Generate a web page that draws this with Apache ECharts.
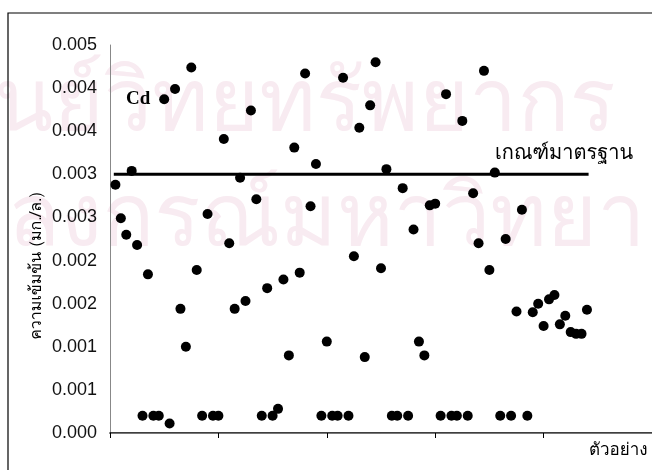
<!DOCTYPE html>
<html>
<head>
<meta charset="utf-8">
<script src="https://cdn.jsdelivr.net/npm/echarts@6/dist/echarts.min.js"></script>
<style>
html,body{margin:0;padding:0;background:#fff;}
#chart{width:652px;height:470px;}
</style>
</head>
<body>
<div id="chart"></div>
<script>
// Cd concentration (mg/L) for samples 1..88
const cdValues = [
  0.00288, 0.00249, 0.00230, 0.00304, 0.00218, 0.00020, 0.00184, 0.00020, 0.00020, 0.00387,
  0.00011, 0.00399, 0.00144, 0.00100, 0.00424, 0.00189, 0.00020, 0.00254, 0.00020, 0.00020,
  0.00341, 0.00220, 0.00144, 0.00296, 0.00153, 0.00374, 0.00271, 0.00020, 0.00168, 0.00020,
  0.00028, 0.00178, 0.00090, 0.00331, 0.00186, 0.00417, 0.00263, 0.00312, 0.00020, 0.00106,
  0.00020, 0.00020, 0.00412, 0.00020, 0.00205, 0.00354, 0.00088, 0.00380, 0.00430, 0.00191,
  0.00306, 0.00020, 0.00020, 0.00284, 0.00020, 0.00236, 0.00106, 0.00090, 0.00264, 0.00266,
  0.00020, 0.00393, 0.00020, 0.00020, 0.00362, 0.00020, 0.00278, 0.00220, 0.00420, 0.00189,
  0.00302, 0.00020, 0.00225, 0.00020, 0.00141, 0.00259, 0.00020, 0.00140, 0.00150, 0.00124,
  0.00155, 0.00160, 0.00126, 0.00136, 0.00117, 0.00115, 0.00115, 0.00143
];
const standardValue = 0.003;
const standardRange = [0.7, 88.3];
const yTickLabels = ['0.000','0.001','0.001','0.002','0.002','0.003','0.003','0.004','0.004','0.005'];
const yStep = 0.0005;
const xTitle = 'ตัวอย่าง';
const yTitle = 'ความเข้มข้น (มก./ล.)';
const seriesLabel = 'Cd';
const standardLabel = 'เกณฑ์มาตรฐาน';

const scatterData = cdValues.map((v, i) => [i + 1, v]);
const lineData = standardRange.map(x => [x, standardValue]);

const chart = echarts.init(document.getElementById('chart'), null, {renderer: 'canvas'});
const thaiFont = '"Norasi","Garuda","Loma","Kinnari","Noto Serif Thai","Noto Sans Thai","DejaVu Sans",sans-serif';
chart.setOption({
  animation: false,
  backgroundColor: '#fff',
  grid: {left: 110, top: 45, width: 542, height: 388, containLabel: false},
  xAxis: [{
    type: 'value', min: 0, max: 100, interval: 20,
    axisLine: {show: true, onZero: false, lineStyle: {color: '#000', width: 1.5}},
    axisTick: {show: true, inside: false, length: 5, lineStyle: {color: '#000'}},
    axisLabel: {show: false},
    splitLine: {show: false}
  }, {
    type: 'value', min: 0, max: 100, position: 'top',
    axisLine: {show: true, lineStyle: {color: '#777', width: 1}},
    axisTick: {show: false}, axisLabel: {show: false}, splitLine: {show: false}
  }],
  yAxis: {
    type: 'value', min: 0, max: 0.0045, interval: yStep,
    axisLine: {show: true, lineStyle: {color: '#888', width: 1}},
    axisTick: {show: false},
    splitLine: {show: false},
    axisLabel: {
      margin: 13, color: '#111', fontSize: 18, fontFamily: 'Liberation Sans, Arial, sans-serif',
      formatter: v => yTickLabels[Math.round(v / yStep)]
    }
  },
  series: [{
    type: 'line', data: lineData, xAxisIndex: 0, symbol: 'none',
    lineStyle: {color: '#000', width: 3}, silent: true, z: 1
  }, {
    type: 'scatter', data: scatterData, xAxisIndex: 0, symbol: 'circle', symbolSize: 10,
    itemStyle: {color: '#000', opacity: 1}, z: 3
  }],
  graphic: [
    {type: 'text', z: -10, x: -60, y: 68, silent: true,
     style: {text: 'ศูนย์วิทยทรัพยากร', font: '86px ' + thaiFont, fill: '#f8ebf1', textVerticalAlign: 'alphabetic'}},
    {type: 'text', z: -10, x: -150, y: 183, silent: true,
     style: {text: 'จุฬาลงกรณ์มหาวิทยาลัย', font: '86px ' + thaiFont, fill: '#f8ebf1', textVerticalAlign: 'alphabetic'}},
    {type: 'rect', shape: {x: 8, y: 13, width: 800, height: 600}, silent: true,
     style: {fill: 'none', stroke: '#000', lineWidth: 1.2}},
    {type: 'text', x: 126, y: 99, silent: true,
     style: {text: seriesLabel, font: 'bold 19px "Liberation Serif", "Times New Roman", serif', fill: '#000', textVerticalAlign: 'middle'}},
    {type: 'text', x: 495, y: 155, silent: true,
     style: {text: standardLabel, font: '20px ' + thaiFont, fill: '#000', textVerticalAlign: 'middle'}},
    {type: 'text', x: 589, y: 451, silent: true,
     style: {text: xTitle, font: '17px ' + thaiFont, fill: '#000', textVerticalAlign: 'middle'}},
    {type: 'text', x: 37, y: 266, rotation: Math.PI / 2, silent: true,
     style: {text: yTitle, font: '16px ' + thaiFont, fill: '#000', textAlign: 'center', textVerticalAlign: 'middle'}}
  ]
});
</script>
</body>
</html>
